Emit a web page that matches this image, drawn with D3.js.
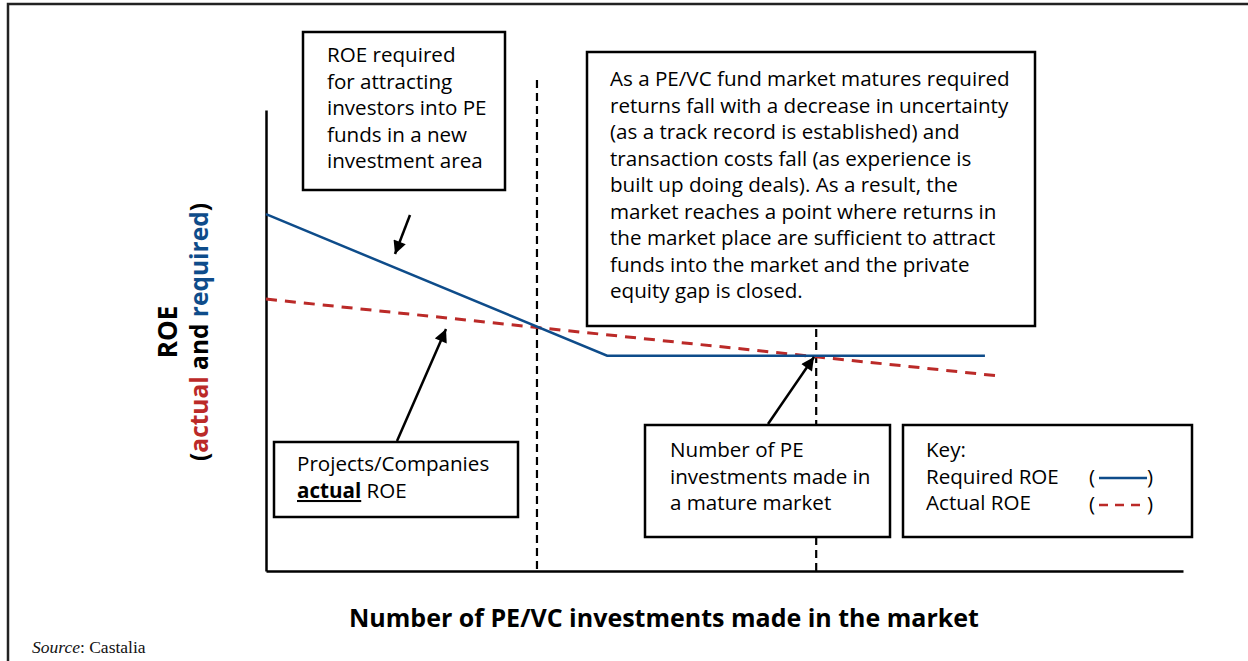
<!DOCTYPE html>
<html>
<head>
<meta charset="utf-8">
<script src="https://cdn.jsdelivr.net/npm/d3@7"></script>
<style>
	body { margin: 0; background: #fff; }
</style>
</head>
<body>
<svg id="chart" width="1248" height="661" font-family="'Open Sans', sans-serif"></svg>
<script>
//Chart data (x = number of investments, y = ROE, both in arbitrary units).
var requiredX = [0, 37.2, 78.4];
var requiredY = [77.4, 46.7, 46.7];
var actualX = [0, 79.5];
var actualY = [59.0, 42.4];
//Market stages marked by dashed verticals.
var stageX = [29.55, 60];
var stageTop = [106.5, 52.5];

var boxTexts = {
	required: ["ROE required", "for attracting", "investors into PE", "funds in a new", "investment area"],
	mature: ["As a PE/VC fund market matures required",
		"returns fall with a decrease in uncertainty",
		"(as a track record is established) and",
		"transaction costs fall (as experience is",
		"built up doing deals). As a result, the",
		"market reaches a point where returns in",
		"the market place are sufficient to attract",
		"funds into the market and the private",
		"equity gap is closed."],
	number: ["Number of PE", "investments made in", "a mature market"],
	key: ["Key:", "Required ROE", "Actual ROE"]
};

var blue = "#0e4c8a";
var red = "#bb2a28";
var fontSize = 20.6;

var svg = d3.select("#chart");

var x = d3.scaleLinear().domain([0, 100]).range([266, 1183]);
var y = d3.scaleLinear().domain([0, 100]).range([571, 110]);

//Outer frame (top and left edges).
svg.append("path")
	.attr("d", "M8,661 L8,4 L1248,4")
	.attr("fill", "none")
	.attr("stroke", "#222")
	.attr("stroke-width", 2.5);

//Arrow marker.
svg.append("defs")
	.append("marker")
	.attr("id", "arrow")
	.attr("viewBox", "0 0 10 10")
	.attr("refX", 10)
	.attr("refY", 5)
	.attr("markerUnits", "userSpaceOnUse")
	.attr("markerWidth", 14)
	.attr("markerHeight", 13)
	.attr("orient", "auto")
	.append("path")
	.attr("d", "M0,0 L10,5 L0,10 Z")
	.attr("fill", "#000");

//Axes without ticks.
var xAxis = d3.axisBottom(x).tickValues([]).tickSizeOuter(0);
var yAxis = d3.axisLeft(y).tickValues([]).tickSizeOuter(0);
svg.append("g")
	.attr("transform", "translate(0," + y(0) + ")")
	.call(xAxis)
	.select(".domain")
	.attr("stroke-width", 2.5);
svg.append("g")
	.attr("transform", "translate(" + x(0) + ",0)")
	.call(yAxis)
	.select(".domain")
	.attr("stroke-width", 2.5);

//Dashed stage lines.
svg.selectAll(".stage")
	.data(stageX)
	.enter()
	.append("line")
	.attr("class", "stage")
	.attr("x1", function(d){ return x(d); })
	.attr("x2", function(d){ return x(d); })
	.attr("y1", function(d, i){ return y(stageTop[i]); })
	.attr("y2", y(0))
	.attr("stroke", "#000")
	.attr("stroke-width", 2.2)
	.attr("stroke-dasharray", "8,5");

var line = d3.line()
	.x(function(d){ return x(d[0]); })
	.y(function(d){ return y(d[1]); });

//Actual ROE (dashed red) and required ROE (solid blue).
svg.append("path")
	.datum(d3.zip(actualX, actualY))
	.attr("d", line)
	.attr("fill", "none")
	.attr("stroke", red)
	.attr("stroke-width", 3)
	.attr("stroke-dasharray", "11,8");

svg.append("path")
	.datum(d3.zip(requiredX, requiredY))
	.attr("d", line)
	.attr("fill", "none")
	.attr("stroke", blue)
	.attr("stroke-width", 2.5);

//Annotation boxes with text lines.
function textBox(bx, by, bw, bh, tx, ty, lines){
	var g = svg.append("g");
	g.append("rect")
		.attr("x", bx)
		.attr("y", by)
		.attr("width", bw)
		.attr("height", bh)
		.attr("fill", "#fff")
		.attr("stroke", "#000")
		.attr("stroke-width", 2.5);
	g.selectAll("text")
		.data(lines)
		.enter()
		.append("text")
		.attr("x", tx)
		.attr("y", function(d, i){ return ty + i * 26.5; })
		.attr("font-size", fontSize)
		.attr("fill", "#000")
		.text(function(d){ return d; });
	return g;
}

textBox(303, 32, 202, 158, 327, 62, boxTexts.required);
textBox(587, 52, 448, 274, 610, 86, boxTexts.mature);
textBox(645, 425, 245, 112, 670, 457, boxTexts.number);
textBox(903, 425, 289, 112, 926, 457, boxTexts.key);

var proj = textBox(274, 442, 244, 75, 297, 471, ["Projects/Companies"]);
var projLine = proj.append("text")
	.attr("x", 297)
	.attr("y", 498)
	.attr("font-size", fontSize)
	.attr("fill", "#000");
projLine.append("tspan")
	.attr("font-weight", "bold")
	.attr("text-decoration", "underline")
	.text("actual");
projLine.append("tspan").text(" ROE");

//Key swatches.
var keyItems = [{color: blue, dash: null, y: 478}, {color: red, dash: "9,7", y: 505}];
keyItems.forEach(function(k){
	svg.append("text")
		.attr("x", 1089)
		.attr("y", k.y + 6)
		.attr("font-size", fontSize)
		.attr("fill", "#000")
		.text("(");
	svg.append("line")
		.attr("x1", 1099)
		.attr("x2", 1147)
		.attr("y1", k.y)
		.attr("y2", k.y)
		.attr("stroke", k.color)
		.attr("stroke-width", 2.5)
		.attr("stroke-dasharray", k.dash);
	svg.append("text")
		.attr("x", 1147)
		.attr("y", k.y + 6)
		.attr("font-size", fontSize)
		.attr("fill", "#000")
		.text(")");
});

//Arrows from boxes to the lines.
var arrows = [[410, 215, 395, 254], [397, 441, 446, 329], [768, 424, 814, 357]];
svg.selectAll(".arrow")
	.data(arrows)
	.enter()
	.append("line")
	.attr("class", "arrow")
	.attr("x1", function(d){ return d[0]; })
	.attr("y1", function(d){ return d[1]; })
	.attr("x2", function(d){ return d[2]; })
	.attr("y2", function(d){ return d[3]; })
	.attr("stroke", "#000")
	.attr("stroke-width", 2.5)
	.attr("marker-end", "url(#arrow)");

//Axis titles.
svg.append("text")
	.attr("x", 664)
	.attr("y", 627)
	.attr("text-anchor", "middle")
	.attr("font-size", 25)
	.attr("font-weight", "bold")
	.attr("fill", "#000")
	.text("Number of PE/VC investments made in the market");

var yTitle = svg.append("g")
	.attr("transform", "translate(0,332) rotate(-90)");
yTitle.append("text")
	.attr("x", 0)
	.attr("y", 177)
	.attr("text-anchor", "middle")
	.attr("font-size", 26)
	.attr("font-weight", "bold")
	.attr("fill", "#000")
	.text("ROE");
var yTitle2 = yTitle.append("text")
	.attr("x", 0)
	.attr("y", 208)
	.attr("text-anchor", "middle")
	.attr("font-size", 24.5)
	.attr("font-weight", "bold")
	.attr("fill", "#000");
yTitle2.append("tspan").text("(");
yTitle2.append("tspan").attr("fill", red).text("actual");
yTitle2.append("tspan").text(" and ");
yTitle2.append("tspan").attr("fill", blue).text("required");
yTitle2.append("tspan").text(")");

//Source note.
var source = svg.append("text")
	.attr("x", 32)
	.attr("y", 653)
	.attr("font-family", "'Liberation Serif', serif")
	.attr("font-size", 17.5)
	.attr("fill", "#111");
source.append("tspan").attr("font-style", "italic").text("Source");
source.append("tspan").text(": Castalia");
</script>
</body>
</html>
